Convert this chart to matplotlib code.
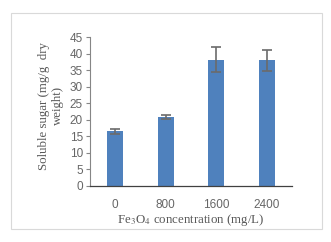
import matplotlib.pyplot as plt
from matplotlib.patches import Rectangle

plt.rcParams["mathtext.fontset"] = "stix"

concentrations = ["0", "800", "1600", "2400"]
sugar = [16.5, 20.8, 38.2, 38.0]
sugar_err = [0.7, 0.7, 3.9, 3.2]

W, H = 331, 242
fig = plt.figure(figsize=(W / 100, H / 100), dpi=100)

# light frame around the chart area
fig.patches.append(Rectangle((11 / W, 1 - 229 / H), (322 - 11) / W, (229 - 13) / H,
                             transform=fig.transFigure, fill=False,
                             edgecolor="#d9d9d9", linewidth=0.8))

ax = fig.add_axes([90 / W, 1 - 186 / H, (292 - 90) / W, (186 - 37) / H])
x = range(len(concentrations))
ax.bar(x, sugar, width=0.32, color="#4f81bd", zorder=2)
ax.errorbar(x, sugar, yerr=sugar_err, fmt="none", ecolor="#6b6b6b",
            elinewidth=1.2, capsize=3.5, capthick=1.2, zorder=3)

ax.set_xlim(-0.5, 3.5)
ax.set_ylim(0, 45)
ax.set_yticks(range(0, 46, 5))
ax.set_xticks(list(x))
ax.set_xticklabels(concentrations)

for s in ["top", "right"]:
    ax.spines[s].set_visible(False)
ax.spines["left"].set_color("#868686")
ax.spines["left"].set_linewidth(0.8)
ax.spines["bottom"].set_color("#404040")
ax.spines["bottom"].set_linewidth(0.9)
ax.tick_params(axis="y", length=3, width=0.8, color="#868686",
               labelsize=8.5, labelcolor="#666666", pad=2)
ax.tick_params(axis="x", length=0, labelsize=8.5, labelcolor="#666666", pad=9)
for lab in ax.get_xticklabels() + ax.get_yticklabels():
    lab.set_family("Liberation Sans")

ax.set_ylabel("Soluble sugar (mg/g  dry\nweight)", family="Liberation Serif",
              fontsize=9.3, color="#595959", linespacing=1.15)
ax.yaxis.set_label_coords(-0.13, 0.54)
ax.set_xlabel("Fe$_3$O$_4$ concentration (mg/L)", family="Liberation Serif",
              fontsize=9.3, color="#595959", labelpad=1)

fig.savefig("out.png", dpi=100)
